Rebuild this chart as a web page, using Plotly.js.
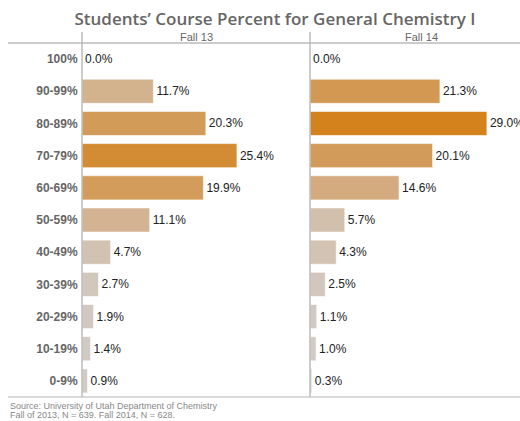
<!DOCTYPE html>
<html><head><meta charset="utf-8">
<script src="https://cdn.plot.ly/plotly-3.0.1.min.js"></script>
<style>html,body{margin:0;padding:0;background:#fff;}#chart{width:520px;height:421px;}</style>
</head><body><div id="chart"></div>
<script>
const categories = ["100%","90-99%","80-89%","70-79%","60-69%","50-59%","40-49%","30-39%","20-29%","10-19%","0-9%"];
const fall13 = [0.0, 11.7, 20.3, 25.4, 19.9, 11.1, 4.7, 2.7, 1.9, 1.4, 0.9];
const fall14 = [0.0, 21.3, 29.0, 20.1, 14.6, 5.7, 4.3, 2.5, 1.1, 1.0, 0.3];
const panelTitles = ["Fall 13", "Fall 14"];
const sourceLines = ["Source: University of Utah Department of Chemistry", "Fall of 2013, N = 639. Fall 2014, N = 628."];
const W = 520, H = 421;
const plotTop = 43, plotBottom = 397;
const ph = plotBottom - plotTop;
const colorscale = [[0, '#d1cdc9'], [0.5, '#d3ab80'], [1, '#d4821b']];

function mk(vals, xa) {
  return {
    type: 'bar', orientation: 'h', y: categories, x: vals,
    xaxis: xa, yaxis: 'y', width: 0.75,
    marker: {color: vals, colorscale: colorscale, cmin: 0, cmax: 29,
             line: {color: 'rgba(255,255,255,0.6)', width: 1}},
    texttemplate: '%{x:.1f}%', textposition: 'outside', cliponaxis: false,
    textfont: {family: 'Arial, Liberation Sans, sans-serif', size: 12, color: '#222'},
    hoverinfo: 'none', showlegend: false
  };
}
const data = [mk(fall13, 'x'), mk(fall14, 'x2')];
const x1 = 82/W, x2 = 310/W;
const yTopExt = 1 + (plotTop - 32)/ph;
const srcFont = {family: 'Arial, Liberation Sans, sans-serif', size: 9, color: '#888'};
const layout = {
  width: W, height: H,
  margin: {l: 0, r: 0, t: plotTop, b: H - plotBottom},
  paper_bgcolor: '#fff', plot_bgcolor: '#fff',
  title: {text: "Students’ Course Percent for General Chemistry I",
          x: 275/W, xanchor: 'center', y: 1 - 19/H, yanchor: 'middle',
          font: {family: 'Open Sans, sans-serif', size: 17, color: '#666', weight: 600}},
  xaxis: {domain: [x1, x2], range: [0, 228/6.1], visible: false, fixedrange: true},
  xaxis2: {domain: [x2, 1], range: [0, 210/6.1], visible: false, fixedrange: true},
  yaxis: {type: 'category', categoryorder: 'array', categoryarray: categories,
          autorange: 'reversed', anchor: 'x', showgrid: false, zeroline: false, showline: false,
          ticks: 'outside', ticklen: 1, tickcolor: 'rgba(0,0,0,0)',
          tickfont: {family: 'Arial, Liberation Sans, sans-serif', size: 12, color: '#666', weight: 'bold'}},
  bargap: 0.25,
  shapes: [
    {type: 'line', xref: 'paper', yref: 'paper', x0: 8/W, x1: 1, y0: 1, y1: 1, line: {color: '#ccc', width: 2}},
    {type: 'line', xref: 'paper', yref: 'paper', x0: 8/W, x1: 1, y0: 0, y1: 0, line: {color: '#ccc', width: 1.5}},
    {type: 'line', xref: 'paper', yref: 'paper', x0: x1, x1: x1, y0: 0, y1: yTopExt, line: {color: '#bbb', width: 1.5}},
    {type: 'line', xref: 'paper', yref: 'paper', x0: x2, x1: x2, y0: 0, y1: yTopExt, line: {color: '#bbb', width: 1.5}}
  ],
  annotations: [
    {text: panelTitles[0], xref: 'paper', yref: 'paper', x: 196/W, y: 1, xanchor: 'center', yanchor: 'bottom', yshift: -2, showarrow: false,
     font: {family: 'Arial, Liberation Sans, sans-serif', size: 11, color: '#666'}},
    {text: panelTitles[1], xref: 'paper', yref: 'paper', x: 421/W, y: 1, xanchor: 'center', yanchor: 'bottom', yshift: -2, showarrow: false,
     font: {family: 'Arial, Liberation Sans, sans-serif', size: 11, color: '#666'}},
    {text: sourceLines[0], xref: 'paper', yref: 'paper', x: 8/W, y: -(405.5 - plotBottom)/ph, xanchor: 'left', yanchor: 'middle', showarrow: false, font: srcFont},
    {text: sourceLines[1], xref: 'paper', yref: 'paper', x: 8/W, y: -(414.5 - plotBottom)/ph, xanchor: 'left', yanchor: 'middle', showarrow: false, font: srcFont}
  ]
};
Plotly.newPlot('chart', data, layout, {displayModeBar: false, staticPlot: true});
</script></body></html>
